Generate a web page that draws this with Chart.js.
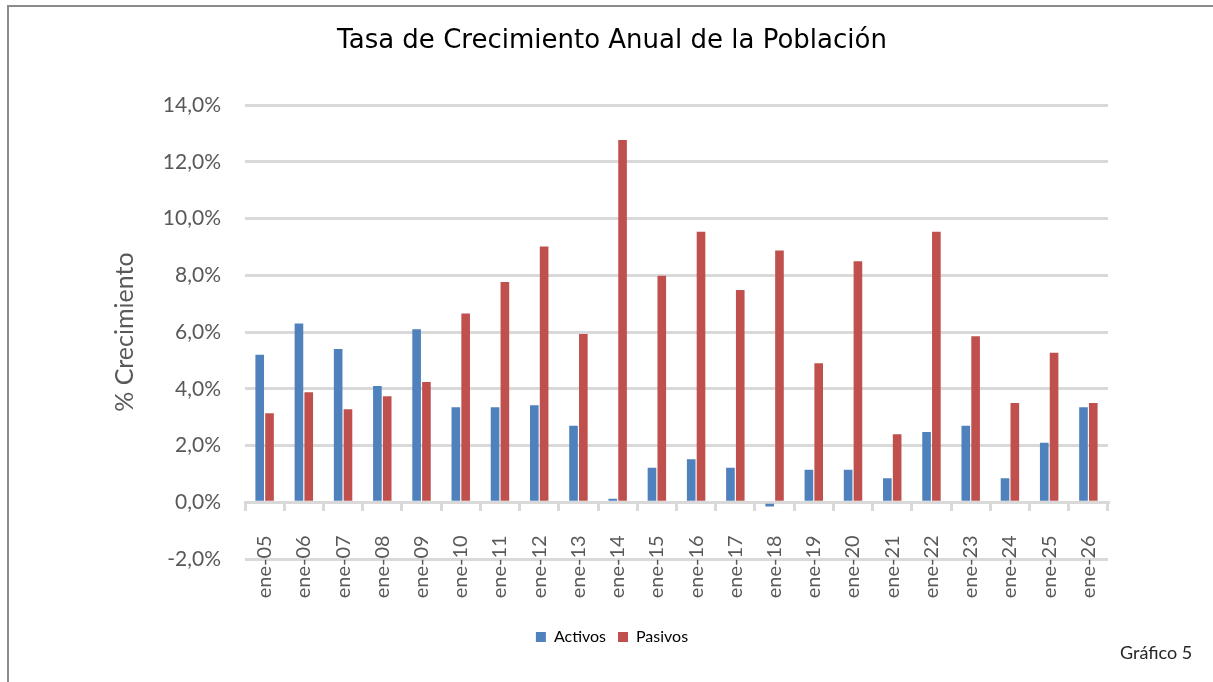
<!DOCTYPE html>
<html>
<head>
<meta charset="utf-8">
<script src="https://cdn.jsdelivr.net/npm/chart.js"></script>
<style>
  html, body { margin: 0; padding: 0; background: #fff; overflow: hidden; }
  #frame { position: absolute; left: 7px; top: 5px; width: 1230px; height: 700px; border: 2px solid #8c8c8c; box-sizing: border-box; }
  #wrap { position: absolute; left: 0; top: 0; width: 1213px; height: 682px; }
  #nota { position: absolute; left: 1120px; top: 641px; font-family: Lato, sans-serif; font-size: 18px; color: #262626; }
</style>
</head>
<body>
<div id="frame"></div>
<div id="wrap"><canvas id="grafico"></canvas></div>
<div id="nota">Gráfico 5</div>
<script>
// categorias (eje x)
var meses = ["ene-05","ene-06","ene-07","ene-08","ene-09","ene-10","ene-11","ene-12","ene-13","ene-14","ene-15",
             "ene-16","ene-17","ene-18","ene-19","ene-20","ene-21","ene-22","ene-23","ene-24","ene-25","ene-26"];
// % crecimiento
var activos = [5.2, 6.3, 5.4, 4.1, 6.1, 3.35, 3.35, 3.42, 2.7, 0.12, 1.22,
               1.52, 1.22, -0.15, 1.15, 1.15, 0.85, 2.48, 2.7, 0.85, 2.1, 3.35];
var pasivos = [3.14, 3.88, 3.28, 3.74, 4.24, 6.66, 7.77, 9.02, 5.93, 12.77, 7.99,
               9.54, 7.48, 8.88, 4.9, 8.5, 2.4, 9.54, 5.85, 3.5, 5.27, 3.5];
// ticks eje y
var ticksY = [-2, 0, 2, 4, 6, 8, 10, 12, 14];

var ctx = document.getElementById("grafico");
var grafico = new Chart(ctx, {
  type: "bar",
  data: {
    labels: meses,
    datasets: [
      { label: "Activos", data: activos, backgroundColor: "#4F81BD", borderWidth: 0 },
      { label: "Pasivos", data: pasivos, backgroundColor: "#C0504D", borderWidth: 0 }
    ]
  },
  options: {
    responsive: true,
    maintainAspectRatio: false,
    animation: false,
    categoryPercentage: 0.5,
    barPercentage: 0.88,
    layout: { padding: { top: 5, left: 116, right: 105, bottom: 27 } },
    plugins: {
      title: {
        display: true,
        text: "Tasa de Crecimiento Anual de la Población",
        color: "#000",
        font: { family: "DejaVu Sans", size: 26, weight: "normal" },
        padding: { top: 21, bottom: 48 }
      },
      legend: {
        position: "bottom",
        labels: {
          boxWidth: 10, boxHeight: 10, padding: 12,
          color: "#000",
          font: { family: "Lato", size: 16 }
        }
      },
      tooltip: { enabled: false }
    },
    scales: {
      x: {
        // eje de categorias cruzando en 0
        position: { y: 0 },
        grid: { display: true, drawOnChartArea: false, drawTicks: true, tickLength: 7, color: "#D9D9D9", lineWidth: 3, offset: true },
        border: { display: true, color: "#D9D9D9", width: 3 },
        ticks: {
          minRotation: 90, maxRotation: 90, autoSkip: false, padding: 26,
          color: "#595959",
          font: { family: "Lato", size: 20 }
        }
      },
      // eje vacio: solo reserva el hueco entre el grafico y la leyenda
      espacio: {
        type: "category",
        position: "bottom",
        grid: { display: false },
        border: { display: false },
        ticks: { display: false },
        afterFit: function(scale) { scale.height = 58; }
      },
      y: {
        min: -2, max: 14,
        afterBuildTicks: function(scale) {
          scale.ticks = ticksY.map(function(v) { return { value: v }; });
        },
        afterFit: function(scale) { scale.width = 129; },
        grid: { color: "#D9D9D9", lineWidth: 3, drawTicks: false },
        border: { display: false },
        ticks: {
          padding: 24,
          color: "#595959",
          font: { family: "Lato", size: 21 },
          callback: function(value) {
            return value.toFixed(1).replace(".", ",") + "%";
          }
        },
        title: {
          display: true,
          text: "% Crecimiento",
          color: "#595959",
          font: { family: "Lato", size: 25 },
          padding: { top: -6, bottom: 0 }
        }
      }
    }
  }
});
</script>
</body>
</html>
